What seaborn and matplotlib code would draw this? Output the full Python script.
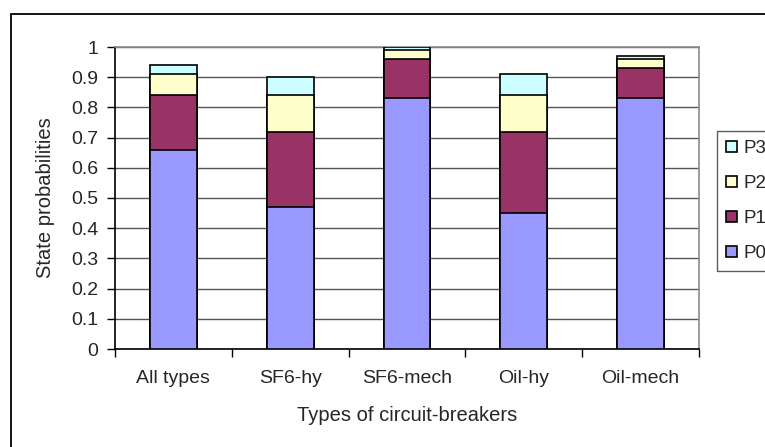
import matplotlib
matplotlib.use("Agg")
import matplotlib.pyplot as plt
from matplotlib.patches import Rectangle
import seaborn as sns
import numpy as np
import pandas as pd

categories = ["All types", "SF6-hy", "SF6-mech", "Oil-hy", "Oil-mech"]
p0 = [0.66, 0.47, 0.83, 0.45, 0.83]
p1 = [0.18, 0.25, 0.13, 0.27, 0.10]
p2 = [0.07, 0.12, 0.03, 0.12, 0.03]
p3 = [0.03, 0.06, 0.01, 0.07, 0.01]
series_names = ["P0", "P1", "P2", "P3"]
colors = ["#9999FF", "#993366", "#FFFFCC", "#CCFFFF"]
ytick_labels = ["0", "0.1", "0.2", "0.3", "0.4", "0.5", "0.6", "0.7", "0.8", "0.9", "1"]

sns.set_theme(style="white")
plt.rcParams["font.family"] = ["Liberation Sans", "DejaVu Sans"]

W, H = 765, 447
fig = plt.figure(figsize=(W / 100, H / 100), dpi=100)

# chart-area frame, running off the right and bottom edges
fig.add_artist(Rectangle((11 / W, -0.1), 1.0, (H - 14) / H + 0.1,
                         transform=fig.transFigure, fill=False,
                         edgecolor="black", linewidth=1.3))

ax = fig.add_axes([115 / W, 1 - 349 / H, (699 - 115) / W, (349 - 47) / H])

layers = np.cumsum(np.array([p0, p1, p2, p3]), axis=0)
# draw cumulative totals from the top layer down so each segment shows its share
for i in range(3, -1, -1):
    df = pd.DataFrame({"type": categories, "value": layers[i]})
    sns.barplot(data=df, x="type", y="value", color=colors[i], saturation=1,
                width=0.4, edgecolor="black", linewidth=1.2, ax=ax,
                label=series_names[i], zorder=3)

handles, labels = ax.get_legend_handles_labels()
if ax.get_legend() is not None:
    ax.get_legend().remove()

ax.set_ylim(0, 1)
ax.set_xlim(-0.5, 4.5)
ax.set_yticks(np.linspace(0, 1, 11))
ax.set_yticklabels(ytick_labels)
ax.yaxis.grid(True, color="#555555", linewidth=1, zorder=0)
ax.set_axisbelow(True)
ax.tick_params(axis="y", which="major", direction="out", length=6, width=1,
               color="black", left=True, labelsize=14, pad=6)
ax.set_xticks(np.arange(-0.5, 4.6, 1), minor=True)
ax.tick_params(axis="x", which="minor", direction="out", length=6, width=1,
               color="black", bottom=True)
ax.tick_params(axis="x", which="major", length=0, labelsize=14, pad=15)

for side in ["left", "bottom"]:
    ax.spines[side].set_color("black")
    ax.spines[side].set_linewidth(1.2)
for side in ["top", "right"]:
    ax.spines[side].set_color("#8c8c8c")
    ax.spines[side].set_linewidth(1.2)

ax.set_xlabel("Types of circuit-breakers", fontsize=14.5)
ax.xaxis.set_label_coords(0.5, -0.19)
ax.set_ylabel("State probabilities", fontsize=14.5)
ax.yaxis.set_label_coords(-0.103, 0.5)

leg = fig.legend(handles, labels, loc="upper left",
                 bbox_to_anchor=(717 / W, 1 - 131 / H),
                 bbox_transform=fig.transFigure, borderaxespad=0,
                 frameon=True, fontsize=13.5, handlelength=0.55, handleheight=0.55,
                 handletextpad=0.35, labelspacing=0.95, borderpad=0.5,
                 fancybox=False, edgecolor="#333333")
leg.get_frame().set_linewidth(1)

fig.savefig("out.png", dpi=100)
